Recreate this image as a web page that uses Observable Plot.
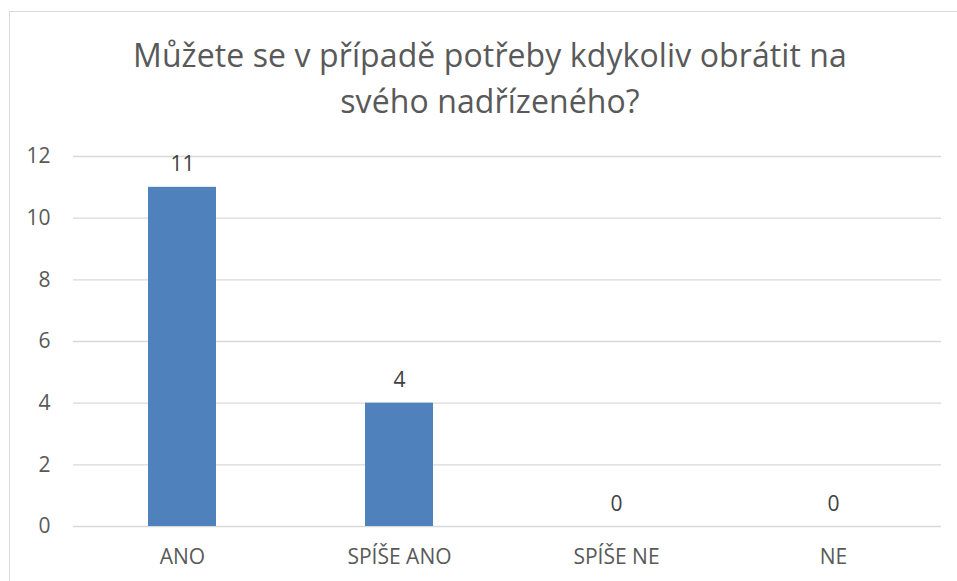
<!DOCTYPE html>
<html>
<head>
<meta charset="utf-8">
<script src="https://cdn.jsdelivr.net/npm/d3@7"></script>
<script src="https://cdn.jsdelivr.net/npm/@observablehq/plot@0.6"></script>
<style>
  html, body { margin: 0; padding: 0; background: #fff; }
  #wrap { position: relative; width: 957px; height: 581px; overflow: hidden; font-family: "Open Sans", sans-serif; }
  #frame { position: absolute; left: 9px; top: 11px; width: 1000px; height: 700px; border-left: 1px solid #d9d9d9; border-top: 1px solid #d9d9d9; }
  #title { position: absolute; left: 10px; width: 960px; top: 32px; text-align: center; color: #595959; font-size: 32px; line-height: 46px; font-family: "Open Sans", sans-serif; letter-spacing: 0.1px; }
  #chart { position: absolute; left: 0; top: 135px; }
</style>
</head>
<body>
<div id="wrap">
  <div id="frame"></div>
  <div id="title">Můžete se v případě potřeby kdykoliv obrátit na<br>svého nadřízeného?</div>
  <div id="chart"></div>
</div>
<script>
const categories = ["ANO", "SPÍŠE ANO", "SPÍŠE NE", "NE"];
const values = [11, 4, 0, 0];
const yTicks = [0, 2, 4, 6, 8, 10, 12];

const data = categories.map((c, i) => ({category: c, value: values[i]}));

const chart = Plot.plot({
  width: 957,
  height: 446,
  marginLeft: 73,
  marginRight: 16,
  marginTop: 21,
  marginBottom: 55,
  style: {fontFamily: "Open Sans, sans-serif", fontSize: "21px", color: "#595959", background: "transparent"},
  x: {domain: categories, paddingInner: 0.687, paddingOuter: 0.3435, label: null},
  y: {domain: [0, 12], label: null},
  marks: [
    Plot.gridY(yTicks, {stroke: "#d9d9d9", strokeOpacity: 1, strokeWidth: 1.3}),
    Plot.barY(data, {x: "category", y: "value", fill: "#4f81bd"}),
    Plot.text(data, {x: "category", y: "value", text: d => String(d.value), lineAnchor: "bottom", dy: -16, fill: "#404040", fontSize: 21}),
    Plot.axisX({tickSize: 0, tickPadding: 23, fontSize: 21, label: null}),
    Plot.axisY(yTicks, {tickSize: 0, tickPadding: 23, fontSize: 21, label: null})
  ]
});
document.getElementById("chart").appendChild(chart);
</script>
</body>
</html>
